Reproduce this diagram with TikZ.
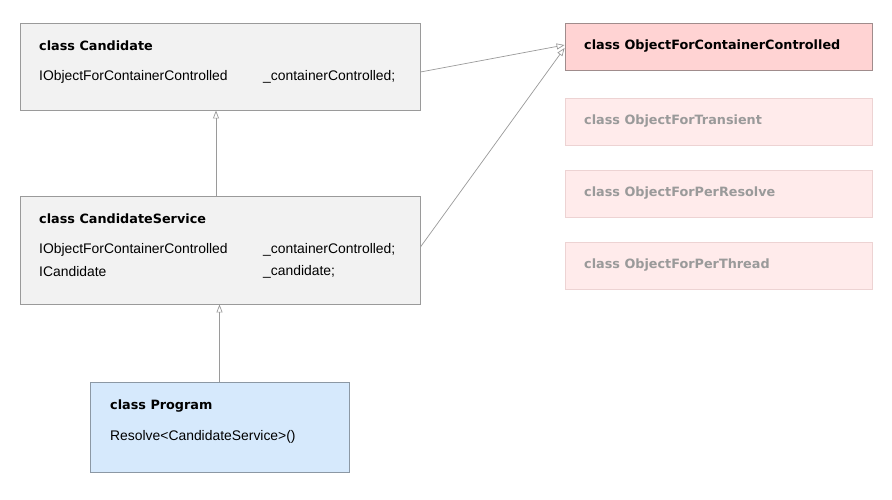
\documentclass[tikz,border=0pt]{standalone}
\usepackage{fontspec}
\setmainfont{Liberation Sans}
\newfontfamily\titlefont{DejaVu Sans}
\usetikzlibrary{calc,arrows.meta}
\definecolor{boxgray}{HTML}{F2F2F2}
\definecolor{edgegray}{HTML}{9A9A9A}
\definecolor{ctrlred}{HTML}{FFD3D3}
\definecolor{ctrledge}{HTML}{A08C8C}
\definecolor{palered}{HTML}{FFEBEB}
\definecolor{paleedge}{HTML}{EDD3D3}
\definecolor{progblue}{HTML}{D6E9FC}
\definecolor{progedge}{HTML}{8C98A4}
\begin{document}
\begin{tikzpicture}
			[x=1pt,y=-1pt,
			 classbox/.style={draw=edgegray, fill=boxgray, line width=0.9pt, inner sep=0pt},
			 title/.style={anchor=west, inner sep=0pt, font=\titlefont\bfseries\fontsize{12.8}{14}\selectfont},
			 field/.style={anchor=west, inner sep=0pt, font=\fontsize{13.9}{16}\selectfont},
			 inherit/.style={draw=edgegray, line width=0.7pt, -{Triangle[open, length=8pt, width=6pt]}}]
			\useasboundingbox[fill=white] (0,0) rectangle (892,499);
			
			\node[classbox, minimum width=400pt, minimum height=87pt]  (cand) at (220,66.5) {};
			\node[classbox, minimum width=400pt, minimum height=108pt] (svc) at (220,250) {};
			\node[classbox, fill=progblue, draw=progedge, minimum width=259pt, minimum height=90pt] (prog) at (219.5,427) {};
			\node[classbox, fill=ctrlred, draw=ctrledge, minimum width=307pt, minimum height=47pt] (occ) at (718.5,46.5) {};
			\node[classbox, fill=palered, draw=paleedge, minimum width=307pt, minimum height=47pt] (tra) at (718.5,121.5) {};
			\node[classbox, fill=palered, draw=paleedge, minimum width=307pt, minimum height=47pt] (per) at (718.5,193.5) {};
			\node[classbox, fill=palered, draw=paleedge, minimum width=307pt, minimum height=47pt] (thr) at (718.5,265.5) {};
			
			\node[title] (candt) at (39,46) {class Candidate};
			\node[field] (cand1) at (39,77) {IObjectForContainerControlled};
			\node[field] (cand2) at (263,77) {\_containerControlled;};
			
			\node[title] (svct) at (39,219) {class CandidateService};
			\node[field] (svc1) at (39,250) {IObjectForContainerControlled};
			\node[field] (svc2) at (263,250) {\_containerControlled;};
			\node[field] (svc3) at (39,272) {ICandidate};
			\node[field] (svc4) at (263,272) {\_candidate;};
			
			\node[title] (progt) at (110,406) {class Program};
			\node[field] (prog1) at (110,437) {Resolve<CandidateService>()};
			
			\node[title] (occt) at (584,46) {class ObjectForContainerControlled};
			\node[title, text=edgegray] (trat) at (584,121) {class ObjectForTransient};
			\node[title, text=edgegray] (pert) at (584,193) {class ObjectForPerResolve};
			\node[title, text=edgegray] (thrt) at (584,265) {class ObjectForPerThread};
			
			\draw[inherit] ([xshift=-4pt]svc.north) -- ([xshift=-4pt]cand.south);
			\draw[inherit] (prog.north) -- (prog.north |- svc.south);
			\draw[inherit] ([yshift=-5.5pt]cand.east) -- ([yshift=1.5pt]occ.west);
			\draw[inherit] ([yshift=3pt]svc.east) -- ([yshift=-1.5pt]occ.west);
		\end{tikzpicture}
\end{document}
